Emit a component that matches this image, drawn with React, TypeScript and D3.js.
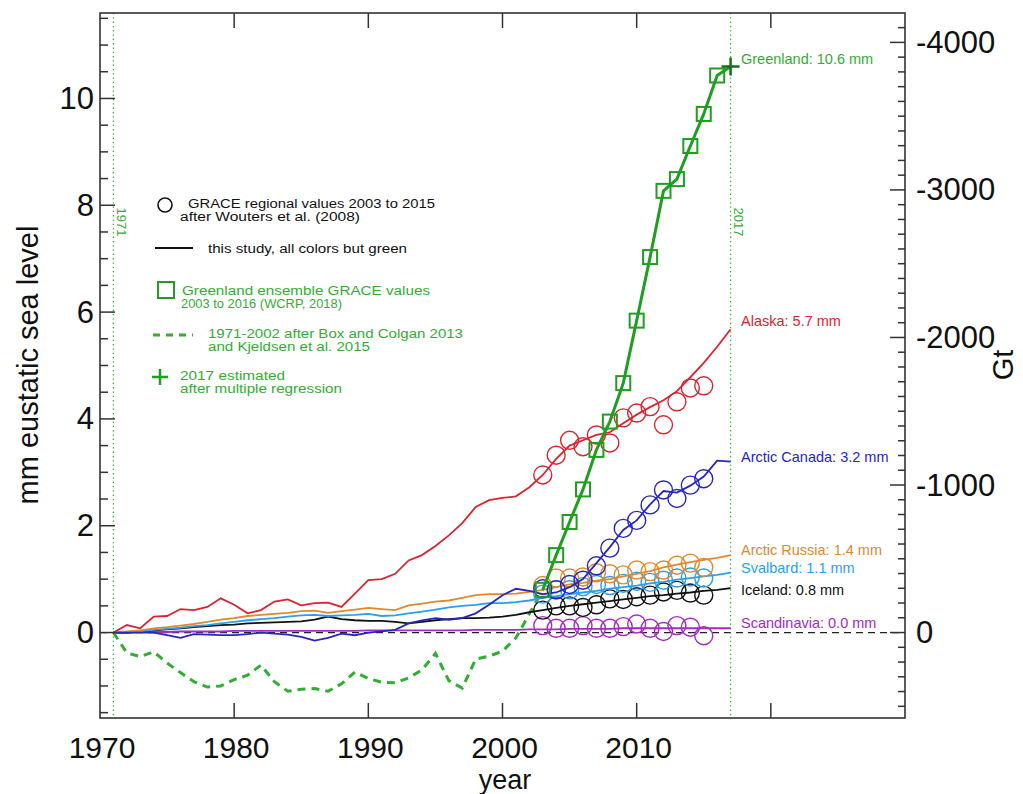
import * as d3 from 'd3';
import { useEffect, useRef } from 'react';

// annual series 1971-2017, mm eustatic sea level
const years = [1971, 1972, 1973, 1974, 1975, 1976, 1977, 1978, 1979, 1980,
  1981, 1982, 1983, 1984, 1985, 1986, 1987, 1988, 1989, 1990,
  1991, 1992, 1993, 1994, 1995, 1996, 1997, 1998, 1999, 2000,
  2001, 2002, 2003, 2004, 2005, 2006, 2007, 2008, 2009, 2010,
  2011, 2012, 2013, 2014, 2015, 2016, 2017];

const alaska = [0.0, 0.14, 0.08, 0.30, 0.31, 0.44, 0.42, 0.48, 0.64, 0.52,
  0.36, 0.42, 0.58, 0.62, 0.51, 0.55, 0.56, 0.48, 0.73, 0.98,
  1.00, 1.10, 1.35, 1.45, 1.62, 1.82, 2.05, 2.35, 2.48, 2.52,
  2.55, 2.72, 2.95, 3.25, 3.50, 3.60, 3.70, 3.75, 3.92, 4.08,
  4.22, 4.35, 4.52, 4.78, 5.05, 5.35, 5.68];

const arcticCanada = [0.0, 0.0, 0.0, 0.0, -0.05, -0.10, -0.03, -0.04, -0.05, -0.05,
  -0.03, 0.0, -0.02, -0.04, -0.08, -0.15, -0.10, -0.02, -0.05, 0.0,
  0.02, 0.05, 0.17, 0.23, 0.27, 0.24, 0.27, 0.36, 0.52, 0.70,
  0.82, 0.78, 0.72, 0.75, 0.85, 1.00, 1.30, 1.60, 1.92, 2.10,
  2.40, 2.65, 2.62, 2.75, 2.92, 3.22, 3.20];

const arcticRussia = [0.0, 0.02, 0.04, 0.08, 0.10, 0.13, 0.16, 0.20, 0.24, 0.27,
  0.31, 0.33, 0.35, 0.37, 0.40, 0.41, 0.37, 0.40, 0.43, 0.46,
  0.44, 0.42, 0.51, 0.54, 0.58, 0.60, 0.65, 0.70, 0.72, 0.72,
  0.73, 0.76, 0.80, 0.85, 0.90, 0.93, 0.97, 1.00, 1.05, 1.10,
  1.15, 1.22, 1.27, 1.32, 1.36, 1.40, 1.45];

const svalbard = [0.0, 0.01, 0.02, 0.05, 0.07, 0.09, 0.12, 0.14, 0.17, 0.20,
  0.23, 0.25, 0.27, 0.30, 0.32, 0.33, 0.31, 0.32, 0.33, 0.35,
  0.31, 0.32, 0.36, 0.39, 0.43, 0.47, 0.50, 0.52, 0.55, 0.55,
  0.57, 0.60, 0.65, 0.68, 0.72, 0.75, 0.78, 0.82, 0.85, 0.88,
  0.92, 0.95, 0.99, 1.02, 1.05, 1.08, 1.12];

const iceland = [0.0, 0.0, 0.02, 0.04, 0.06, 0.08, 0.10, 0.12, 0.14, 0.15,
  0.17, 0.18, 0.19, 0.20, 0.21, 0.24, 0.30, 0.25, 0.23, 0.22,
  0.22, 0.20, 0.17, 0.20, 0.23, 0.25, 0.27, 0.27, 0.28, 0.30,
  0.33, 0.38, 0.42, 0.46, 0.50, 0.53, 0.56, 0.59, 0.62, 0.65,
  0.68, 0.70, 0.73, 0.75, 0.78, 0.80, 0.83];

const scandinavia = [0.0, 0.0, 0.01, 0.01, 0.01, 0.02, 0.02, 0.02, 0.02, 0.03,
  0.03, 0.03, 0.03, 0.03, 0.03, 0.03, 0.03, 0.03, 0.03, 0.04,
  0.04, 0.04, 0.04, 0.04, 0.04, 0.04, 0.04, 0.05, 0.05, 0.05,
  0.05, 0.06, 0.06, 0.06, 0.07, 0.07, 0.07, 0.07, 0.08, 0.08,
  0.08, 0.08, 0.08, 0.08, 0.08, 0.08, 0.08];

// GRACE regional values 2003-2015 (Wouters et al.)
const graceYears = [2003, 2004, 2005, 2006, 2007, 2008, 2009, 2010, 2011, 2012, 2013, 2014, 2015];
const alaskaGrace = [2.95, 3.32, 3.60, 3.48, 3.70, 3.55, 4.02, 4.11, 4.23, 3.89, 4.32, 4.58, 4.62];
const canadaGrace = [0.82, 0.80, 0.90, 0.98, 1.25, 1.58, 1.95, 2.10, 2.39, 2.67, 2.51, 2.76, 2.88];
const russiaGrace = [0.88, 1.02, 1.02, 1.04, 1.12, 1.10, 1.08, 1.17, 1.14, 1.17, 1.26, 1.30, 1.22];
const svalbardGrace = [0.72, 0.80, 0.80, 0.86, 0.90, 0.88, 0.92, 0.96, 0.94, 0.98, 1.02, 1.04, 1.02];
const icelandGrace = [0.42, 0.50, 0.50, 0.47, 0.52, 0.63, 0.62, 0.67, 0.70, 0.76, 0.79, 0.74, 0.70];
const scandGrace = [0.13, 0.08, 0.08, 0.13, 0.08, 0.08, 0.11, 0.16, 0.08, 0.02, 0.13, 0.10, -0.06];

// Greenland
const boxYears = [1971, 1972, 1973, 1974, 1975, 1976, 1977, 1978, 1979, 1980,
  1981, 1982, 1983, 1984, 1985, 1986, 1987, 1988, 1989, 1990,
  1991, 1992, 1993, 1994, 1995, 1996, 1997, 1998, 1999, 2000, 2001, 2002];
const greenlandBox = [0.0, -0.38, -0.45, -0.36, -0.57, -0.75, -0.92, -1.02, -1.0, -0.88,
  -0.80, -0.61, -0.92, -1.10, -1.06, -1.05, -1.10, -0.96, -0.74, -0.86,
  -0.93, -0.94, -0.85, -0.70, -0.39, -0.90, -1.04, -0.50, -0.44, -0.35, -0.10, 0.35];
const greenlandYears = [2003, 2004, 2005, 2006, 2007, 2008, 2009, 2010, 2011, 2012, 2013, 2014, 2015, 2016];
const greenlandGrace = [0.80, 1.45, 2.07, 2.68, 3.42, 3.95, 4.67, 5.84, 7.03, 8.27, 8.49, 9.11, 9.71, 10.43];
const estYear = 2017;
const greenlandEst = 10.6;

const xTicks = [1970, 1980, 1990, 2000, 2010];
const mmTicks = [0, 2, 4, 6, 8, 10];
const gtTicks = [-4000, -3000, -2000, -1000, 0];
const MM_TO_GT = 362;

const regions = [
  { values: scandinavia, grace: scandGrace, color: '#a52ac8', label: 'Scandinavia: 0.0 mm', dy: -4 },
  { values: iceland, grace: icelandGrace, color: '#111111', label: 'Iceland: 0.8 mm', dy: 3 },
  { values: svalbard, grace: svalbardGrace, color: '#2a9ff0', label: 'Svalbard: 1.1 mm', dy: -4 },
  { values: arcticRussia, grace: russiaGrace, color: '#e0892e', label: 'Arctic Russia: 1.4 mm', dy: -4 },
  { values: arcticCanada, grace: canadaGrace, color: '#2626c4', label: 'Arctic Canada: 3.2 mm', dy: -3 },
  { values: alaska, grace: alaskaGrace, color: '#dc2430', label: 'Alaska: 5.7 mm', dy: -7 },
];

// legend text lines: [text, x, baseline y, width, colour]
const legendLines: [string, number, number, number, string][] = [
  ['GRACE regional values 2003 to 2015', 188, 208, 247, '#111'],
  ['after Wouters et al. (2008)', 180, 221, 180, '#111'],
  ['this study, all colors but green', 208, 253, 199, '#111'],
  ['Greenland ensemble GRACE values', 182, 295, 248, '#33ad33'],
  ['2003 to 2016 (WCRP, 2018)', 181, 308, 161, '#33ad33'],
  ['1971-2002 after Box and Colgan 2013', 208, 338, 255, '#33ad33'],
  ['and Kjeldsen et al. 2015', 208, 351, 162, '#33ad33'],
  ['2017 estimated', 180, 380, 105, '#33ad33'],
  ['after multiple regression', 180, 393, 162, '#33ad33'],
];

const GREEN = '#1f9e1f';
const LGREEN = '#33ad33';
const FONT = '"Liberation Sans", Arial, Helvetica, sans-serif';

export default function App() {
  const ref = useRef<SVGSVGElement>(null);

  useEffect(() => {
    const svg = d3.select(ref.current);
    svg.selectAll('*').remove();
    const L = 100, R = 905, T = 13, B = 718;
    const x = d3.scaleLinear().domain([1970, 2030]).range([L, R]);
    const y = d3.scaleLinear().domain([-1.6, 11.6]).range([B, T]);
    const gt = d3.scaleLinear().domain([1.6 * MM_TO_GT, -11.6 * MM_TO_GT]).range([B, T]);

    // zero line
    svg.append('line').attr('x1', L).attr('x2', R).attr('y1', y(0)).attr('y2', y(0))
      .attr('stroke', '#222').attr('stroke-width', 1.2).attr('stroke-dasharray', '7,5');

    // dotted year markers
    [1971, 2017].forEach(yr => {
      svg.append('line').attr('x1', x(yr)).attr('x2', x(yr)).attr('y1', T).attr('y2', B)
        .attr('stroke', LGREEN).attr('stroke-width', 1.3).attr('stroke-dasharray', '1.3,3');
      svg.append('text').attr('transform', `translate(${x(yr) + 7},222) rotate(90)`)
        .attr('text-anchor', 'middle').attr('dominant-baseline', 'middle')
        .attr('font-family', FONT).attr('font-size', 13).attr('fill', LGREEN).text(String(yr));
    });

    const line = d3.line<[number, number]>().x(d => x(d[0])).y(d => y(d[1]));

    // Greenland dashed (1971-2002) joined to first GRACE value
    const boxPts: [number, number][] = boxYears.map((yr, i) => [yr, greenlandBox[i]]);
    boxPts.push([greenlandYears[0], greenlandGrace[0]]);
    svg.append('path').attr('d', line(boxPts)).attr('fill', 'none')
      .attr('stroke', LGREEN).attr('stroke-width', 3).attr('stroke-dasharray', '8,6');

    // regional lines and GRACE circles
    regions.forEach(r => {
      const pts: [number, number][] = years.map((yr, i) => [yr, r.values[i]]);
      svg.append('path').attr('d', line(pts)).attr('fill', 'none')
        .attr('stroke', r.color).attr('stroke-width', 1.8);
      svg.append('g').selectAll('circle').data(graceYears).join('circle')
        .attr('cx', d => x(d)).attr('cy', (d, i) => y(r.grace[i])).attr('r', 9)
        .attr('fill', 'none').attr('stroke', r.color).attr('stroke-width', 1.4);
      svg.append('text').attr('x', 741).attr('y', y(r.values[r.values.length - 1]) + r.dy)
        .attr('dominant-baseline', 'middle').attr('font-family', FONT).attr('font-size', 14.5)
        .attr('fill', r.color).text(r.label);
    });

    // Greenland GRACE + estimate
    const gPts: [number, number][] = greenlandYears.map((yr, i) => [yr, greenlandGrace[i]]);
    gPts.push([estYear, greenlandEst]);
    svg.append('path').attr('d', line(gPts)).attr('fill', 'none')
      .attr('stroke', GREEN).attr('stroke-width', 3);
    svg.append('g').selectAll('rect').data(greenlandYears).join('rect')
      .attr('x', d => x(d) - 7).attr('y', (d, i) => y(greenlandGrace[i]) - 7)
      .attr('width', 14).attr('height', 14).attr('fill', 'none')
      .attr('stroke', GREEN).attr('stroke-width', 2);
    const px = x(estYear), py = y(greenlandEst);
    svg.append('path').attr('d', `M${px - 9},${py}H${px + 9}M${px},${py - 9}V${py + 9}`)
      .attr('stroke', '#186e18').attr('stroke-width', 2.5);
    svg.append('text').attr('x', 741).attr('y', py - 6).attr('dominant-baseline', 'middle')
      .attr('font-family', FONT).attr('font-size', 14.5).attr('fill', LGREEN).text('Greenland: 10.6 mm');

    // frame
    svg.append('rect').attr('x', L).attr('y', T).attr('width', R - L).attr('height', B - T)
      .attr('fill', 'none').attr('stroke', '#333').attr('stroke-width', 1.6);

    const tk = svg.append('g').attr('stroke', '#333').attr('stroke-width', 1.5);
    // left mm ticks
    d3.range(-1.5, 11.6, 0.5).forEach(v => {
      const major = mmTicks.includes(v);
      tk.append('line').attr('x1', L).attr('x2', L + (major ? 15 : 8)).attr('y1', y(v)).attr('y2', y(v));
    });
    // right Gt ticks
    d3.range(-4100, 501, 100).forEach(v => {
      const major = gtTicks.includes(v);
      tk.append('line').attr('x1', R).attr('x2', R - (major ? 15 : 7)).attr('y1', gt(v)).attr('y2', gt(v));
    });
    // x ticks bottom and top
    d3.range(1980, 2030, 10).forEach(v => {
      tk.append('line').attr('x1', x(v)).attr('x2', x(v)).attr('y1', B).attr('y2', B - 15);
      tk.append('line').attr('x1', x(v)).attr('x2', x(v)).attr('y1', T).attr('y2', T + 15);
    });

    const lab = svg.append('g').attr('font-family', FONT).attr('font-size', 31).attr('fill', '#111');
    mmTicks.forEach(v => lab.append('text').attr('x', 94).attr('y', y(v))
      .attr('text-anchor', 'end').attr('dominant-baseline', 'central').text(String(v)));
    gtTicks.forEach(v => lab.append('text').attr('x', 916).attr('y', gt(v))
      .attr('dominant-baseline', 'central').text(String(v)));
    xTicks.forEach(v => lab.append('text').attr('x', x(v) + 2).attr('y', 758)
      .attr('font-size', 30).attr('text-anchor', 'middle').text(String(v)));

    lab.append('text').attr('x', 505).attr('y', 789).attr('text-anchor', 'middle')
      .attr('font-size', 27).text('year');
    lab.append('text').attr('transform', 'translate(38,365) rotate(-90)').attr('text-anchor', 'middle')
      .attr('font-size', 29).text('mm eustatic sea level');
    lab.append('text').attr('transform', 'translate(1013,365) rotate(-90)').attr('text-anchor', 'middle')
      .attr('font-size', 29).text('Gt');

    // legend
    const lg = svg.append('g').attr('font-family', FONT).attr('font-size', 12);
    lg.append('circle').attr('cx', 165).attr('cy', 205).attr('r', 7)
      .attr('fill', 'none').attr('stroke', '#111').attr('stroke-width', 1.6);
    lg.append('line').attr('x1', 155).attr('x2', 193).attr('y1', 248).attr('y2', 248)
      .attr('stroke', '#111').attr('stroke-width', 2);
    lg.append('rect').attr('x', 158).attr('y', 282).attr('width', 16).attr('height', 16)
      .attr('fill', 'none').attr('stroke', GREEN).attr('stroke-width', 2);
    lg.append('line').attr('x1', 153).attr('x2', 193).attr('y1', 335).attr('y2', 335)
      .attr('stroke', LGREEN).attr('stroke-width', 3).attr('stroke-dasharray', '7,6');
    lg.append('path').attr('d', 'M152,377H168M160,369V385').attr('stroke', GREEN).attr('stroke-width', 2.5);
    legendLines.forEach(([t, lx, ly, w, c]) => {
      lg.append('text').attr('x', lx).attr('y', ly).attr('fill', c)
        .attr('textLength', w).attr('lengthAdjust', 'spacingAndGlyphs').text(t);
    });
  }, []);

  return (
    <svg ref={ref} width={1023} height={794}
      style={{ position: 'absolute', left: 0, top: 0, background: '#fff' }} />
  );
}
